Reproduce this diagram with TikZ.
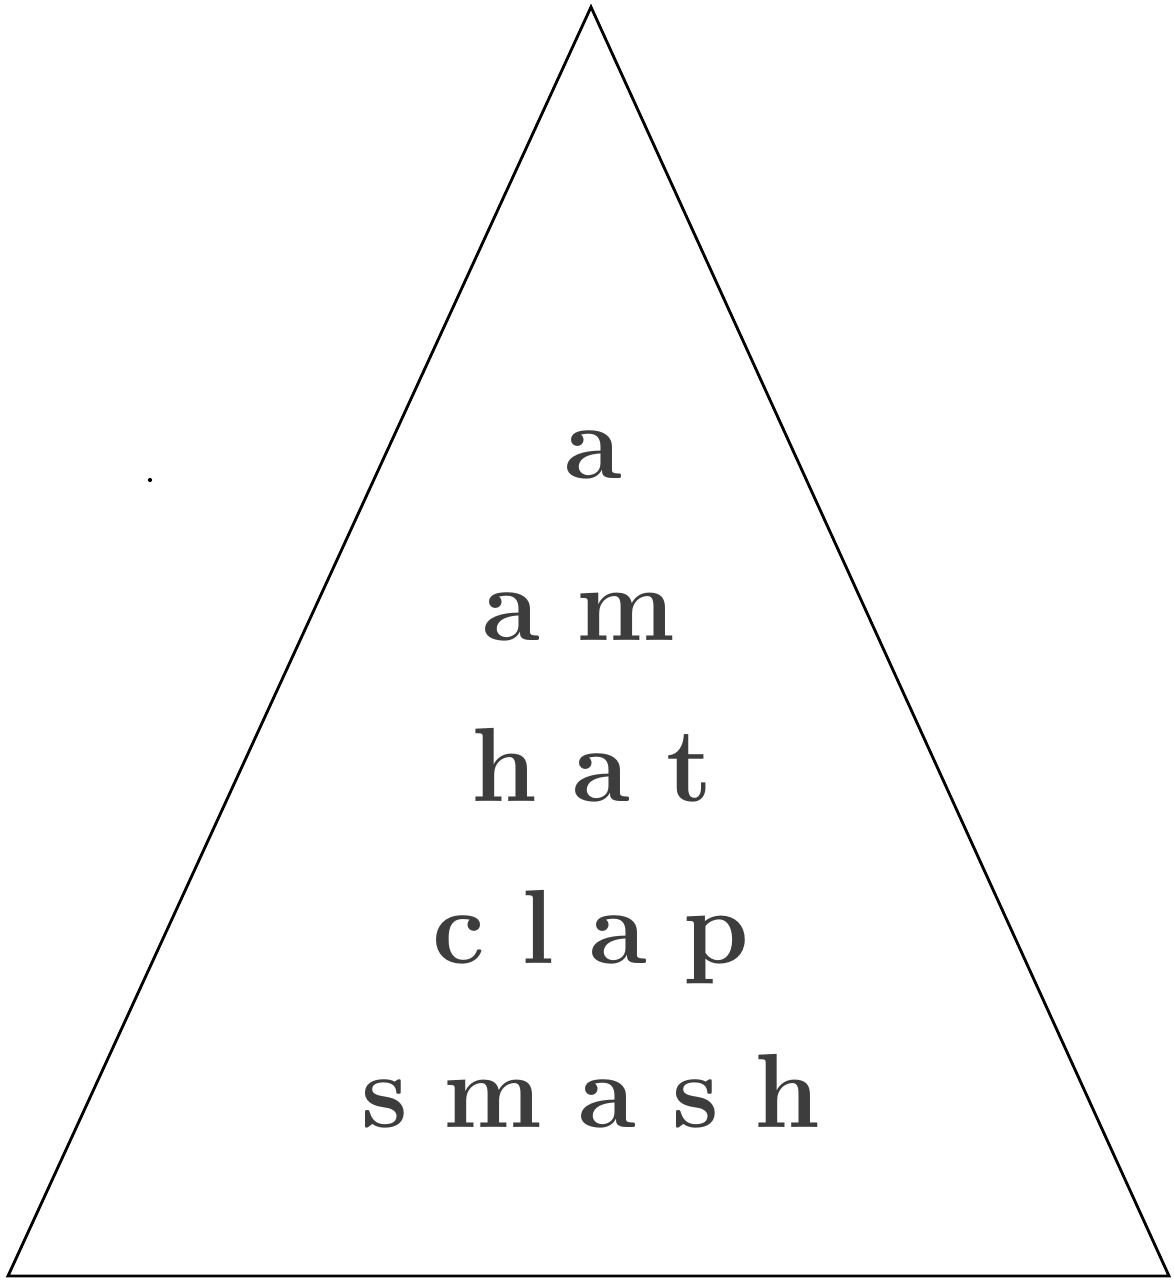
\documentclass[tikz,border=0pt]{standalone}
\usepackage{fontspec}
\usepackage{tikz}
\usetikzlibrary{positioning}

\tikzset{
  word/.style={anchor=base,text=black!76,font=\fontsize{60}{60}\selectfont\bfseries,inner sep=0pt}
}

\begin{document}
\begin{tikzpicture}[x=0.02cm,y=-0.02cm]
    \useasboundingbox (0,0) rectangle (1173,1280);
    % Trekanten
    \draw[line width=1.6pt,line join=miter]
      (591,7) -- (1169,1276) -- (8,1276) -- cycle;
    % Ordene, en linje for hver
    \node[word] (w1) at (593,478) {a};
    \node[word] (w2) at (579,640) {a\hspace{0.34em}m};
    \node[word] (w3) at (592,801) {h\hspace{0.34em}a\hspace{0.34em}t};
    \node[word] (w4) at (591,963) {c\hspace{0.34em}l\hspace{0.34em}a\hspace{0.34em}p};
    \node[word] (w5) at (591,1127) {s\hspace{0.34em}m\hspace{0.34em}a\hspace{0.34em}s\hspace{0.34em}h};
    % lille prik til venstre
    \fill (150,480) circle[radius=1.2pt];
\end{tikzpicture}
\end{document}
